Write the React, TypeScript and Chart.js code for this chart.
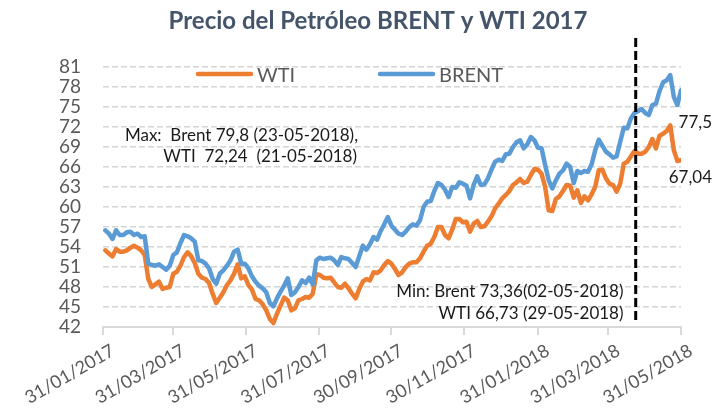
import React, { useEffect, useRef } from "react";
import { Chart, registerables } from "chart.js";

Chart.register(...registerables);

// ---------- data ----------
const chartTitle = "Precio del Petróleo BRENT y WTI 2017";
const seriesNames = ["WTI", "BRENT"];
const seriesColors = ["#ED7D31", "#5B9BD5"];

const AXIS_START = "2017-01-31";
const AXIS_END = "2018-05-31";
const SERIES_START = "2017-02-02";
const STEP_DAYS = 3;
const markerDate = "2018-04-23";

const tickLabels = [
  "31/01/2017", "31/03/2017", "31/05/2017", "31/07/2017", "30/09/2017",
  "30/11/2017", "31/01/2018", "31/03/2018", "31/05/2018",
];

const wti = [
  53.5, 53.0, 52.6, 53.7, 53.3, 53.3, 53.5, 53.9, 54.2, 53.9,
  53.5, 52.8, 49.2, 48.0, 48.4, 48.8, 47.7, 47.9, 48.0, 50.0,
  50.3, 51.2, 52.5, 53.2, 52.6, 51.6, 50.0, 49.4, 49.2, 48.6,
  47.0, 45.6, 46.4, 47.2, 48.3, 49.0, 50.0, 51.4, 49.3, 49.6,
  48.3, 47.6, 46.2, 46.0, 45.4, 44.5, 43.2, 42.6, 44.0, 45.2,
  46.4, 46.0, 44.5, 44.8, 46.0, 46.2, 46.5, 46.4, 47.0, 49.9,
  49.8, 49.4, 49.3, 49.4, 48.7, 48.0, 47.9, 48.5, 47.8, 47.0,
  46.3, 47.7, 48.8, 49.2, 49.0, 50.2, 50.1, 50.5, 51.3, 51.9,
  51.5, 50.7, 49.8, 50.2, 51.0, 51.5, 51.7, 51.7, 52.3, 53.3,
  54.2, 54.5, 55.5, 57.0, 57.0, 55.8, 55.3, 56.6, 58.2, 58.2,
  57.7, 57.8, 56.3, 57.5, 57.9, 57.0, 57.1, 57.8, 58.6, 59.8,
  60.5, 61.3, 61.8, 62.4, 63.3, 63.7, 64.2, 63.6, 63.8, 64.8,
  65.7, 65.6, 65.0, 63.0, 59.5, 59.4, 61.2, 61.6, 62.4, 63.3,
  63.2, 61.4, 62.5, 60.6, 61.6, 61.0, 61.9, 63.0, 65.5, 65.6,
  64.3, 63.5, 63.3, 62.3, 63.5, 66.5, 66.8, 67.6, 68.4, 68.0,
  68.0, 68.3, 69.0, 70.2, 68.8, 70.7, 71.0, 71.4, 72.24, 68.5,
  66.9, 67.04,
];

const brent = [
  56.5, 56.0, 55.2, 56.5, 55.8, 55.8, 56.2, 56.3, 55.8, 56.0,
  55.5, 55.6, 51.5, 51.3, 51.2, 51.4, 51.0, 50.6, 51.2, 52.8,
  53.2, 54.6, 55.8, 55.6, 55.3, 54.8, 52.0, 51.9, 51.5, 50.8,
  49.2, 48.5, 50.0, 50.5, 51.2, 52.0, 53.3, 53.6, 51.5, 51.5,
  50.8, 49.6, 48.8, 48.2, 47.8, 47.2, 45.6, 45.1, 46.3, 47.3,
  48.2, 49.3, 46.8, 47.2, 48.0, 49.0, 48.6, 49.4, 48.4, 52.0,
  52.4, 52.2, 52.3, 52.4, 52.0, 51.3, 52.5, 52.3, 52.2, 51.6,
  51.0, 52.6, 54.2, 53.6, 54.4, 55.5, 55.1, 56.4, 57.4, 58.5,
  57.2, 56.6, 56.0, 55.8, 56.3, 57.0, 57.4, 57.2, 58.0, 60.0,
  60.8, 60.9, 62.4, 63.6, 63.3, 62.6, 61.5, 63.0, 62.9, 63.7,
  63.5, 63.2, 61.3, 63.3, 64.6, 63.3, 63.4, 64.3, 65.6, 66.8,
  67.1, 66.9, 67.9, 68.0, 69.0, 69.7, 70.0, 68.8, 69.4, 70.5,
  70.0, 68.9, 68.8, 66.3, 64.0, 62.8, 64.0, 65.0, 65.5, 66.5,
  66.0, 63.6, 65.4, 65.1, 65.4, 65.3, 66.4, 68.5, 70.1, 69.2,
  68.3, 67.9, 67.4, 67.6, 69.8, 71.9, 71.8, 73.3, 74.1, 74.4,
  74.7, 74.1, 73.8, 75.3, 75.5, 77.4, 78.7, 79.0, 79.8, 76.5,
  75.3, 77.5,
];

const maxNote = ["Max:  Brent 79,8 (23-05-2018),", "WTI  72,24  (21-05-2018)"];
const minNote = ["Min: Brent 73,36(02-05-2018)", "WTI 66,73 (29-05-2018)"];

const Y_MIN = 42;
const Y_MAX = 81;
const Y_STEP = 3;

// ---------- helpers ----------
const DAY_MS = 86400000;
const toDay = (iso: string) =>
  (Date.parse(iso + "T00:00:00Z") - Date.parse(AXIS_START + "T00:00:00Z")) / DAY_MS;
const labelToIso = (l: string) => {
  const [d, m, y] = l.split("/");
  return `${y}-${m}-${d}`;
};
const tickDays = tickLabels.map((l) => toDay(labelToIso(l)));
const seriesStartDay = toDay(SERIES_START);
const toPoints = (vals: number[]) =>
  vals.map((v, i) => ({ x: seriesStartDay + i * STEP_DAYS, y: v }));
const fmt = (v: number) => String(v).replace(".", ",");

const FONT = "Lato, 'Open Sans', sans-serif";

const overlayPlugin = {
  id: "overlay",
  afterDraw(chart: any) {
    const ctx = chart.ctx as CanvasRenderingContext2D;
    const xs = chart.scales.x;
    ctx.save();

    // dashed marker line
    const mx = xs.getPixelForValue(toDay(markerDate));
    ctx.strokeStyle = "#000";
    ctx.lineWidth = 3;
    ctx.setLineDash([9, 4]);
    ctx.beginPath();
    ctx.moveTo(mx, 38);
    ctx.lineTo(mx, 320);
    ctx.stroke();
    ctx.setLineDash([]);

    // title
    ctx.fillStyle = "#44546A";
    ctx.font = `bold 24px ${FONT}`;
    ctx.textAlign = "center";
    ctx.textBaseline = "alphabetic";
    ctx.fillText(chartTitle, 378, 29);

    // legend
    const legendX = [198, 380];
    seriesNames.forEach((name, i) => {
      const lx = legendX[i];
      ctx.strokeStyle = seriesColors[i];
      ctx.lineWidth = 4.5;
      ctx.lineCap = "round";
      ctx.beginPath();
      ctx.moveTo(lx, 74);
      ctx.lineTo(lx + 53, 74);
      ctx.stroke();
      ctx.fillStyle = "#595959";
      ctx.font = `20px ${FONT}`;
      ctx.textAlign = "left";
      ctx.fillText(name, lx + 59, 81.5);
    });

    // notes
    ctx.fillStyle = "#1a1a1a";
    ctx.font = `17px ${FONT}`;
    ctx.textAlign = "right";
    ctx.fillText(maxNote[0], 358, 141);
    ctx.fillText(maxNote[1], 357, 162);
    ctx.fillText(minNote[0], 623.5, 297);
    ctx.fillText(minNote[1], 623.5, 318.5);

    // end values
    ctx.font = `17px ${FONT}`;
    ctx.fillText(fmt(brent[brent.length - 1]), 712, 128);
    ctx.fillText(fmt(wti[wti.length - 1]), 712, 183);

    ctx.restore();
  },
};

export default function App() {
  const ref = useRef<HTMLCanvasElement>(null);

  useEffect(() => {
    const chart = new Chart(ref.current!, {
      type: "line",
      data: {
        datasets: [
          {
            label: seriesNames[1],
            data: toPoints(brent),
            borderColor: seriesColors[1],
            borderWidth: 4.5,
            pointRadius: 0,
            tension: 0,
            borderJoinStyle: "round",
            borderCapStyle: "round",
          },
          {
            label: seriesNames[0],
            data: toPoints(wti),
            borderColor: seriesColors[0],
            borderWidth: 4.5,
            pointRadius: 0,
            tension: 0,
            borderJoinStyle: "round",
            borderCapStyle: "round",
          },
        ],
      },
      options: {
        animation: false,
        responsive: true,
        maintainAspectRatio: false,
        layout: { padding: { top: 67, right: 32, left: 0, bottom: 0 } },
        plugins: {
          legend: { display: false },
          title: { display: false },
          tooltip: { enabled: false },
        },
        scales: {
          x: {
            type: "linear",
            min: 0,
            max: toDay(AXIS_END),
            afterBuildTicks: (scale: any) => {
              scale.ticks = tickDays.map((v) => ({ value: v }));
            },
            afterFit: (scale: any) => {
              scale.height = 81;
            },
            grid: {
              drawOnChartArea: false,
              drawTicks: true,
              tickLength: 8,
              color: "#d9d9d9",
              lineWidth: 2,
            },
            border: { display: true, color: "#d9d9d9", width: 2 },
            ticks: {
              autoSkip: false,
              minRotation: 30,
              maxRotation: 30,
              padding: 5,
              labelOffset: 10,
              color: "#595959",
              font: { family: FONT, size: 18 },
              callback: (_v: any, i: number) => tickLabels[i],
            },
          },
          y: {
            min: Y_MIN,
            max: Y_MAX,
            afterFit: (scale: any) => {
              scale.width = 103;
            },
            afterBuildTicks: (scale: any) => {
              const t = [];
              for (let v = Y_MIN; v <= Y_MAX; v += Y_STEP) t.push({ value: v });
              scale.ticks = t;
            },
            grid: {
              color: "#d4d4d4",
              lineWidth: 1.5,
              drawTicks: false,
            },
            border: { display: false, dash: [6, 3] },
            ticks: {
              autoSkip: false,
              padding: 22,
              color: "#595959",
              font: { family: FONT, size: 19 },
            },
          },
        },
      },
      plugins: [overlayPlugin],
    } as any);
    return () => chart.destroy();
  }, []);

  return (
    <div
      style={{
        position: "fixed",
        left: 0,
        top: 0,
        width: 713,
        height: 408,
        background: "#fff",
      }}
    >
      <canvas ref={ref} />
    </div>
  );
}
